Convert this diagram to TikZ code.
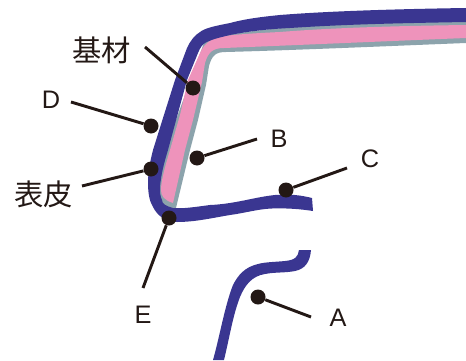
\documentclass[tikz,border=0pt]{standalone}
\usepackage{fontspec}
\setmainfont{Liberation Sans}
\newfontfamily\cjk{Noto Sans CJK JP}
\usepackage{tikz}
\usetikzlibrary{positioning}
\definecolor{skinblue}{HTML}{3A3691}
\definecolor{basepink}{HTML}{EE93BB}
\definecolor{linegray}{HTML}{8CA3AC}
\definecolor{dotblack}{HTML}{231815}
\tikzset{
  dot/.style={circle, fill=dotblack, inner sep=0pt, minimum size=11.25pt},
  leader/.style={draw=dotblack, line width=2.2pt},
  tag/.style={inner sep=0pt, text=dotblack, font=\fontsize{19}{21}\selectfont},
  cjktag/.style={inner sep=0pt, text=dotblack, font=\cjk\fontsize{22}{24}\selectfont},
}

\begin{document}
\begin{tikzpicture}[x=0.75pt, y=-0.75pt]
  \useasboundingbox (0,0) rectangle (466,360);
  % Gray layer
  \fill[linegray] (466,20) .. controls (380,21) and (260,25) .. (205,40) -- (165,150)
    -- (156,195) -- (160,212) -- (175,212) -- (190,150) -- (198,120) -- (206,85) -- (209,66)
    .. controls (212,55) and (216,52) .. (226,52)
    .. controls (300,50) and (390,46) .. (466,43) -- cycle;
  % Pink layer
  \fill[basepink] (466,25) .. controls (390,26) and (330,28) .. (280,32)
    .. controls (260,33) and (240,34) .. (225,36) .. controls (212,38) and (205,42) .. (200,53)
    -- (188,80) -- (180,115) -- (170,150) .. controls (164,170) and (161,182) .. (161,190)
    .. controls (161,196) and (164,200) .. (173,203)
    -- (185,150) -- (193,120) -- (202,82) -- (205,63) .. controls (208,53) and (212,48) .. (224,48)
    .. controls (300,45) and (390,41) .. (466,38) -- cycle;
  % Blue skin, upper part
  \fill[skinblue] (466,8) .. controls (400,9) and (330,11) .. (280,15)
    .. controls (260,17) and (245,19) .. (230,23)
    .. controls (215,26) and (205,28) .. (200,32)
    .. controls (195,35) and (190,41) .. (187,48)
    -- (175,80) -- (163,118) -- (153,150)
    .. controls (150,162) and (148,172) .. (148,183)
    .. controls (148,195) and (150,202) .. (153,207)
    .. controls (157,215) and (165,222) .. (177,222)
    .. controls (195,222) and (212,218) .. (230,215)
    .. controls (245,213) and (258,209) .. (272,208.5)
    .. controls (287,208) and (300,209) .. (313,211) -- (312,198)
    .. controls (300,195) and (290,194) .. (275,195)
    .. controls (255,197) and (235,204) .. (210,205)
    .. controls (195,207) and (182,209) .. (173,208)
    .. controls (166,206) and (162,204) .. (162,200)
    .. controls (160,196) and (160,192) .. (160,187)
    .. controls (161,175) and (164,163) .. (168,150)
    -- (178,113) -- (187,80) -- (198,53)
    .. controls (200,48) and (202,45) .. (205,43)
    .. controls (212,39) and (222,37) .. (230,35)
    .. controls (250,31) and (270,29) .. (290,28)
    .. controls (350,24) and (410,23) .. (466,22) -- cycle;
  % Blue skin, lower part
  \fill[skinblue] (299,250) .. controls (298,257) and (295,260) .. (285,261)
    .. controls (275,262) and (265,262) .. (258,264)
    .. controls (245,267) and (238,275) .. (233,285)
    .. controls (225,305) and (220,335) .. (213,360) -- (224,360)
    .. controls (230,335) and (233,315) .. (240,297)
    .. controls (245,285) and (252,276) .. (265,274)
    .. controls (275,272) and (285,273) .. (295,271)
    .. controls (305,269) and (310,262) .. (311,250) -- cycle;
  % Dots
  \node[dot] (basedot) at (193,88) {};
  \node[dot] (bdot) at (197,158) {};
  \node[dot] (ddot) at (151,126) {};
  \node[dot] (skindot) at (151,169) {};
  \node[dot] (cdot) at (286,190) {};
  \node[dot] (edot) at (169,218) {};
  \node[dot] (adot) at (258,297) {};
  % Free ends
  \coordinate (baseend) at (145,47);
  \coordinate (bend) at (257,139);
  \coordinate (dend) at (71,102);
  \coordinate (skinend) at (82,186);
  \coordinate (cend) at (347,168);
  \coordinate (eend) at (143,288);
  \coordinate (aend) at (311,317);
  \draw[leader] (basedot) -- (baseend);
  \draw[leader] (bdot) -- (bend);
  \draw[leader] (ddot) -- (dend);
  \draw[leader] (skindot) -- (skinend);
  \draw[leader] (cdot) -- (cend);
  \draw[leader] (edot) -- (eend);
  \draw[leader] (adot) -- (aend);
  % Labels
  \node[cjktag] (baselabel) at (101.5,50) {基材};
  \node[tag] (blabel) at (279,139) {B};
  \node[tag] (dlabel) at (51,100) {D};
  \node[cjktag] (skinlabel) at (43.5,194) {表皮};
  \node[tag] (clabel) at (370,159) {C};
  \node[tag] (elabel) at (143,315) {E};
  \node[tag] (alabel) at (338,318) {A};
\end{tikzpicture}
\end{document}
